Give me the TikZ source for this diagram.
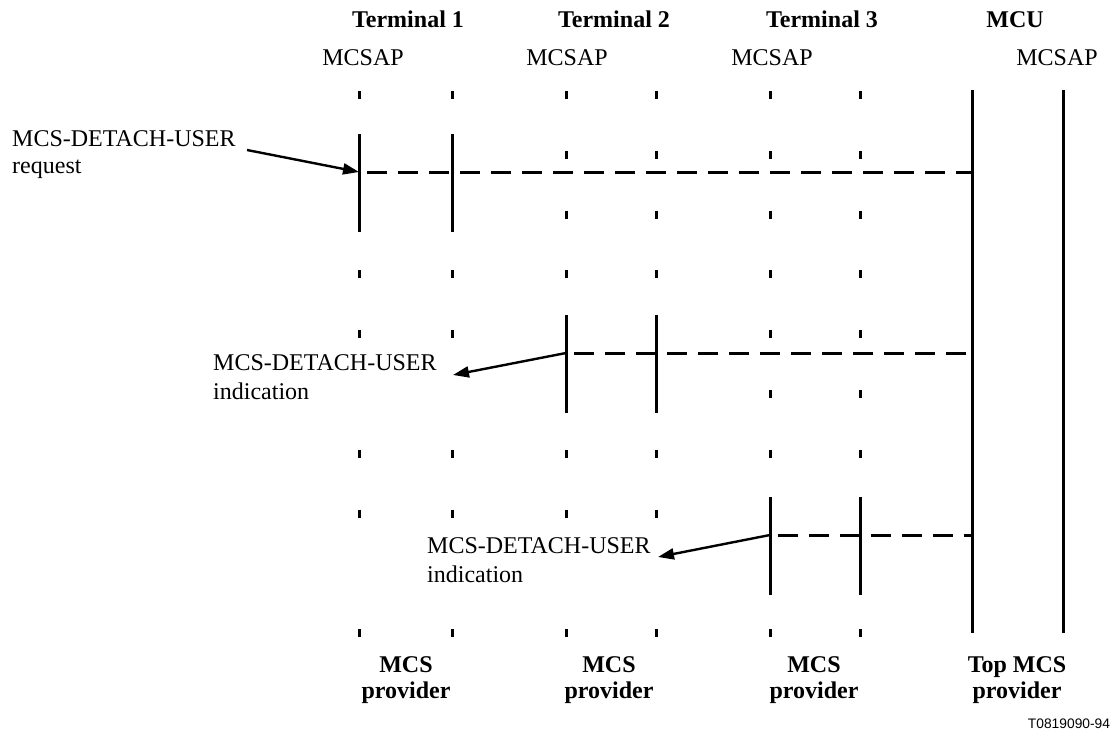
\documentclass[tikz,border=0pt]{standalone}
\usepackage{fontspec}
\setmainfont{Liberation Serif}
\newfontfamily\figsans{Liberation Sans}
\usetikzlibrary{arrows.meta}

\begin{document}
\begin{tikzpicture}[x=1pt, y=-1pt,
  txt/.style={inner sep=0pt, font=\fontsize{24}{27}\selectfont},
  prim/.style={txt, fill=white, align=left, text width=250pt, anchor=north west},
  head/.style={inner sep=0pt, align=center, font=\fontsize{24}{26}\selectfont\bfseries},
  tick/.style={line width=3pt, dash pattern=on 8pt off 51.8pt},
  bar/.style={line width=3pt},
  pdu/.style={line width=3pt, dash pattern=on 20pt off 11pt, dash phase=23pt},
  arr/.style={line width=2.4pt, -{Triangle[length=16pt,width=11pt]}}]
  \useasboundingbox (0,0) rectangle (1112,734);

  % lifelines of the three terminals (dotted) and of the MCU (solid)
  \foreach \n/\x in {t1a/359,t1b/452,t2a/566,t2b/656,t3a/770,t3b/860} {
    \coordinate (\n-top) at (\x,91);
    \coordinate (\n-bot) at (\x,640);
    \draw[tick] (\n-top) -- (\n-bot);
  }
  \foreach \n/\x in {mcua/972,mcub/1063} {
    \coordinate (\n-top) at (\x,90);
    \coordinate (\n-bot) at (\x,633);
    \draw[bar] (\n-top) -- (\n-bot);
  }

  % detach exchanges
  \foreach \a/\b/\y in {t1a/t1b/172,t2a/t2b/353,t3a/t3b/535} {
    \draw[bar] (\a-top |- 0,\y-38) -- (\a-top |- 0,\y+60);
    \draw[bar] (\b-top |- 0,\y-38) -- (\b-top |- 0,\y+60);
    \coordinate (\a-msg) at (\a-top |- 0,\y);
    \draw[pdu] (\a-msg) -- (mcua-top |- 0,\y);
  }

  % headings
  \node[head, anchor=base] (term1) at (408,27) {Terminal 1};
  \node[head, anchor=base] (term2) at (614,27) {Terminal 2};
  \node[head, anchor=base] (term3) at (822,27) {Terminal 3};
  \node[head, anchor=base] (mcu) at (1015,27) {MCU};
  \node[txt, anchor=base] (sap1) at (363,65) {MCSAP};
  \node[txt, anchor=base] (sap2) at (567,65) {MCSAP};
  \node[txt, anchor=base] (sap3) at (772,65) {MCSAP};
  \node[txt, anchor=base] (sap4) at (1057,65) {MCSAP};

  % primitives
  \node[prim, text width=230pt] (req) at (12,130) {MCS-DETACH-USER\\request};
  \draw[arr] ([shift={(235,20)}]req.north west) -- (t1a-msg);
  \node[prim, font=\fontsize{24}{29}\selectfont] (ind1) at (213,354) {MCS-DETACH-USER\\indication};
  \draw[arr] (t2a-msg) -- ([shift={(240,21)}]ind1.north west);
  \node[prim, font=\fontsize{24}{29}\selectfont, text width=230pt, inner xsep=76pt] (ind2) at (351,537) {MCS-DETACH-USER\\indication};
  \draw[arr] (t3a-msg) -- ([shift={(307,20)}]ind2.north west);

  % providers
  \node[head, anchor=north] (prov1) at (406,656) {MCS\\provider};
  \node[head, anchor=north] (prov2) at (609,656) {MCS\\provider};
  \node[head, anchor=north] (prov3) at (814,656) {MCS\\provider};
  \node[head, anchor=north] (top) at (1017,656) {Top MCS\\provider};
  \node[inner sep=0pt, anchor=base, font=\figsans\fontsize{13.8}{16}\selectfont] (fig) at (1069,728) {T0819090-94};
\end{tikzpicture}
\end{document}
